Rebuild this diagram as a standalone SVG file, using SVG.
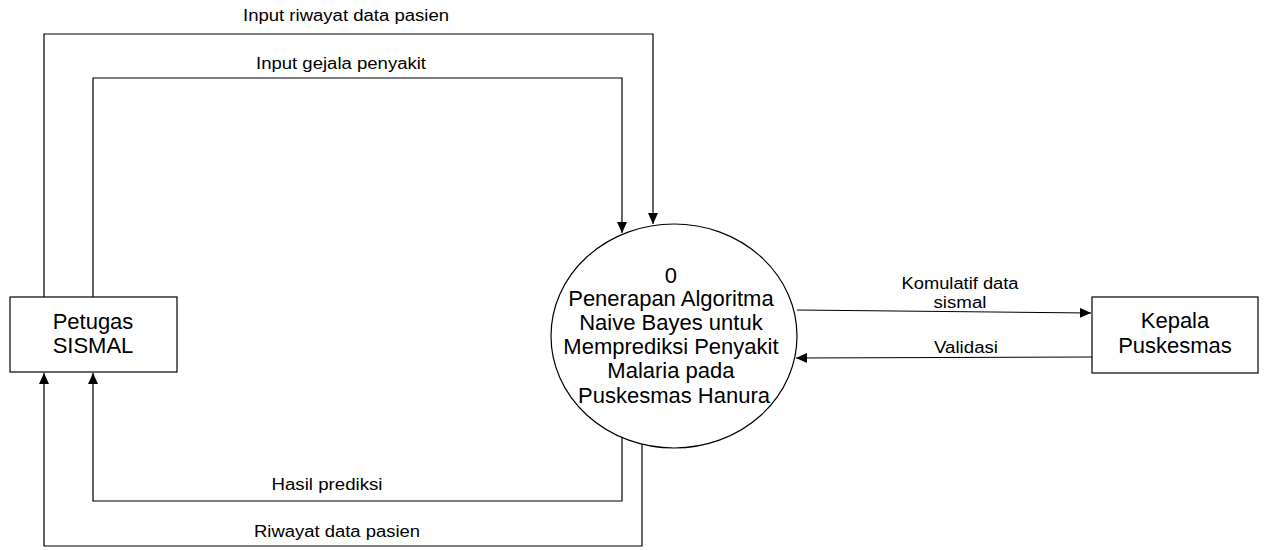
<svg xmlns="http://www.w3.org/2000/svg" width="1264" height="550" viewBox="0 0 1264 550">
<style>
.box{fill:#fff;stroke:#000;stroke-width:1.2}
.ln{fill:none;stroke:#000;stroke-width:1.2}
.t{font-family:"Liberation Sans",Arial,sans-serif;fill:#000}
.big{font-size:22px}
.sm{font-size:16px}
</style>
<defs>
<marker id="ah" markerWidth="12" markerHeight="10" refX="11" refY="5" orient="auto" markerUnits="userSpaceOnUse">
<path d="M0,0 L11,5 L0,10 Z" fill="#000"/>
</marker>
</defs>
<rect width="1264" height="550" fill="#fff"/>
<g id="connectors">
<path class="ln" d="M44,297 V34 H653 V224" marker-end="url(#ah)"/>
<path class="ln" d="M93,297 V78 H622 V233" marker-end="url(#ah)"/>
<path class="ln" d="M622,437 V501 H93 V373" marker-end="url(#ah)"/>
<path class="ln" d="M642,444 V546 H44 V373" marker-end="url(#ah)"/>
<path class="ln" d="M797,310 L1091,313" marker-end="url(#ah)"/>
<path class="ln" d="M1092,357 L796,358" marker-end="url(#ah)"/>
<text class="t sm" x="346" y="21" text-anchor="middle" textLength="206" lengthAdjust="spacingAndGlyphs">Input riwayat data pasien</text>
<text class="t sm" x="341" y="69" text-anchor="middle" textLength="170" lengthAdjust="spacingAndGlyphs">Input gejala penyakit</text>
<text class="t sm" x="327" y="490" text-anchor="middle" textLength="111" lengthAdjust="spacingAndGlyphs">Hasil prediksi</text>
<text class="t sm" x="337" y="537" text-anchor="middle" textLength="166" lengthAdjust="spacingAndGlyphs">Riwayat data pasien</text>
<text class="t sm" x="960" y="289" text-anchor="middle" textLength="117" lengthAdjust="spacingAndGlyphs">Komulatif data</text>
<text class="t sm" x="960" y="308" text-anchor="middle" textLength="53" lengthAdjust="spacingAndGlyphs">sismal</text>
<text class="t sm" x="966" y="353" text-anchor="middle" textLength="64" lengthAdjust="spacingAndGlyphs">Validasi</text>
</g>
<g id="petugas">
<rect class="box" x="10" y="297" width="167" height="75"/>
<text class="t big" x="93" y="329" text-anchor="middle">Petugas</text>
<text class="t big" x="93" y="353" text-anchor="middle">SISMAL</text>
</g>
<g id="proses">
<ellipse class="box" cx="674" cy="336" rx="123" ry="112"/>
<text class="t big" text-anchor="middle">
<tspan x="674" y="283">0</tspan>
<tspan x="674" y="306">Penerapan Algoritma</tspan>
<tspan x="674" y="330">Naive Bayes untuk</tspan>
<tspan x="674" y="354">Memprediksi Penyakit</tspan>
<tspan x="674" y="378">Malaria pada</tspan>
<tspan x="674" y="403">Puskesmas Hanura</tspan>
</text>
</g>
<g id="kepala">
<rect class="box" x="1092" y="297" width="166" height="76"/>
<text class="t big" x="1175" y="328" text-anchor="middle">Kepala</text>
<text class="t big" x="1175" y="353" text-anchor="middle">Puskesmas</text>
</g>
</svg>
